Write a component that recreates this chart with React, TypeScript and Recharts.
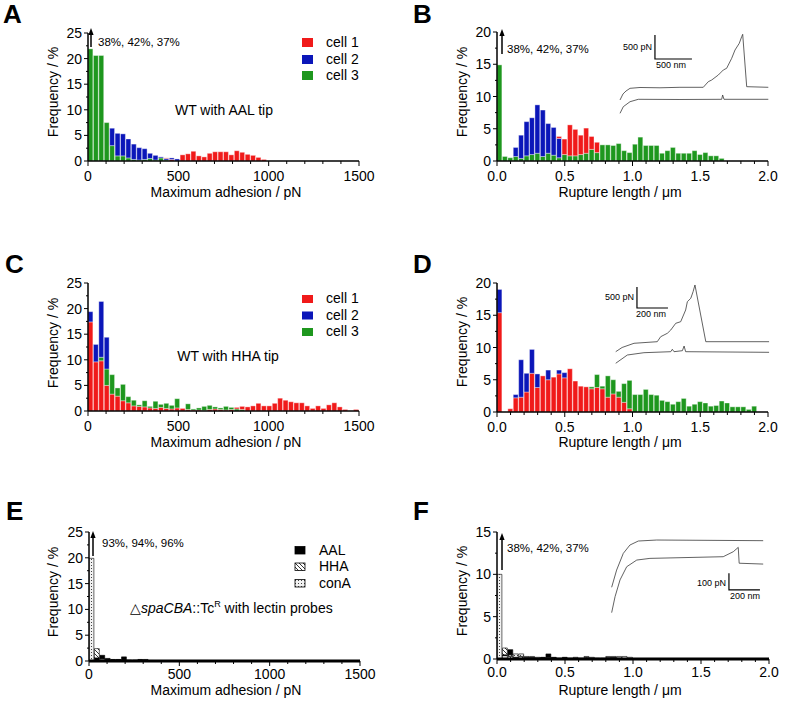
import React from 'react';
import { BarChart, Bar, Cell, XAxis, YAxis, LineChart, Line } from 'recharts';

const FONT = '"Liberation Sans", Arial, Helvetica, sans-serif';
const RED = '#F01A1A';
const BLUE = '#0B16B9';
const GREEN = '#1E971E';
const DOTS = 'url(#pat-dots)';
const HATCH = 'url(#pat-hatch)';
const BLACK = '#000';

// histogram bins (left edge of each bin)
const ADHESION_BINS = [0, 30, 60, 90, 120, 150, 180, 210, 240, 270, 300, 330, 360, 390, 420, 450, 480, 510, 540, 570, 600, 630, 660, 690, 720, 750, 780, 810, 840, 870, 900, 930, 960, 990, 1020, 1050, 1080, 1110, 1140, 1170, 1200, 1230, 1260, 1290, 1320, 1350, 1380, 1410, 1440, 1470];
const RUPTURE_BINS = [0, 0.04, 0.08, 0.12, 0.16, 0.2, 0.24, 0.28, 0.32, 0.36, 0.4, 0.44, 0.48, 0.52, 0.56, 0.6, 0.64, 0.68, 0.72, 0.76, 0.8, 0.84, 0.88, 0.92, 0.96, 1, 1.04, 1.08, 1.12, 1.16, 1.2, 1.24, 1.28, 1.32, 1.36, 1.4, 1.44, 1.48, 1.52, 1.56, 1.6, 1.64, 1.68, 1.72, 1.76, 1.8, 1.84, 1.88, 1.92, 1.96];

// axis ticks
const ADH_TICKS = [0, 100, 200, 300, 400, 500, 600, 700, 800, 900, 1000, 1100, 1200, 1300, 1400, 1500];
const ADH_MAJOR = [0, 500, 1000, 1500];
const RUP_TICKS = [0, 0.1, 0.2, 0.3, 0.4, 0.5, 0.6, 0.7, 0.8, 0.9, 1, 1.1, 1.2, 1.3, 1.4, 1.5, 1.6, 1.7, 1.8, 1.9, 2];
const RUP_MAJOR = [0, 0.5, 1, 1.5, 2];
const FREQ25_TICKS = [0, 2.5, 5, 7.5, 10, 12.5, 15, 17.5, 20, 22.5, 25];
const FREQ20_TICKS = [0, 2.5, 5, 7.5, 10, 12.5, 15, 17.5, 20];
const FREQ15_TICKS = [0, 2.5, 5, 7.5, 10, 12.5, 15];

// A: WT with AAL tip, max adhesion (%)
const A_CELL1 = [0, 0, 0, 0, 0, 0, 0, 0, 0, 0, 0, 0, 0, 0, 0.6, 0.3, 0, 1.2, 1.4, 1.9, 1.0, 0.8, 1.5, 1.8, 1.8, 1.8, 1.2, 2.0, 1.7, 1.3, 1.1, 0.7, 0.3, 0, 0, 0, 0, 0, 0, 0, 0, 0, 0, 0, 0, 0, 0, 0, 0, 0];
const A_CELL2 = [0, 0, 0, 0, 6.4, 5.4, 5.3, 4.3, 3.3, 2.6, 2.4, 1.5, 1.1, 0.8, 0.5, 0.6, 0.4, 0, 0, 0, 0, 0, 0, 0, 0, 0, 0, 0, 0, 0, 0, 0, 0, 0, 0, 0, 0, 0, 0, 0, 0, 0, 0, 0, 0, 0, 0, 0, 0, 0];
const A_CELL3 = [21.9, 20.6, 20.6, 7.5, 3.0, 1.0, 1.0, 0.6, 0.3, 0.2, 0.3, 0.5, 0.2, 0.6, 0.2, 0, 0, 0, 0, 0, 0, 0, 0, 0, 0, 0, 0, 0, 0, 0, 0, 0, 0, 0, 0, 0, 0, 0, 0, 0, 0, 0, 0, 0, 0, 0, 0, 0, 0, 0];

// B: WT with AAL tip, rupture length (%)
const B_CELL1 = [0, 0, 0, 0, 0, 0, 0, 0, 0, 0, 0, 3.8, 3.4, 5.6, 4.9, 4.0, 5.1, 3.8, 2.9, 0, 0, 0, 0, 0, 0, 0, 0, 0, 0, 0, 0, 0, 0, 0, 0, 0, 0, 0, 0, 0, 0, 0, 0, 0, 0, 0, 0, 0, 0, 0];
const B_CELL2 = [0, 0, 0, 2.1, 4.0, 6.1, 6.7, 8.7, 7.9, 5.8, 5.2, 3.5, 0, 0, 0, 0, 0, 0, 0, 0, 0, 0, 0, 0, 0, 0, 0, 0, 0, 0, 0, 0, 0, 0, 0, 0, 0, 0, 0, 0, 0, 0, 0, 0, 0, 0, 0, 0, 0, 0];
const B_CELL3 = [14.9, 0.7, 0.5, 0.7, 0.4, 0.8, 1.0, 1.2, 0.7, 1.2, 0.9, 0.5, 1.0, 0.8, 0.8, 1.0, 1.2, 1.8, 1.3, 2.5, 2.5, 2.4, 2.7, 1.6, 1.3, 2.6, 3.7, 2.4, 2.4, 2.4, 1.2, 1.6, 2.1, 1.2, 1.2, 1.2, 1.6, 1.0, 1.3, 0.8, 0.8, 0.4, 0, 0, 0, 0, 0, 0, 0, 0];

// C: WT with HHA tip, max adhesion (%)
const C_CELL1 = [17.4, 9.6, 9.8, 5.0, 3.3, 2.9, 2.0, 1.6, 1.0, 0.9, 0.8, 0.6, 0.5, 0.7, 0.5, 0.4, 0.6, 0.5, 0.3, 0.2, 0.2, 0.1, 0.3, 0.4, 0.3, 0.2, 0.3, 0.7, 0.9, 0.8, 1.0, 1.5, 1.0, 1.0, 1.5, 2.5, 2.1, 1.8, 1.6, 1.6, 1.0, 0.5, 1.0, 0.5, 1.2, 1.6, 0.8, 0.3, 0, 0.3];
const C_CELL2 = [19.4, 13.0, 21.4, 14.4, 0, 0, 0, 0, 0, 0, 0, 0, 0, 0, 0, 0, 0, 0, 0, 0, 0, 0, 0, 0, 0, 0, 0, 0, 0, 0, 0, 0, 0, 0, 0, 0, 0, 0, 0, 0, 0, 0, 0, 0, 0, 0, 0, 0, 0, 0];
const C_CELL3 = [0, 0, 10.5, 8.2, 7.1, 4.5, 5.2, 2.8, 2.1, 1.2, 2.0, 0.9, 1.9, 1.3, 1.5, 1.1, 2.4, 0.5, 1.4, 0.4, 0.6, 0.9, 1.1, 0.8, 0.6, 0.9, 0.7, 0.4, 0.3, 0, 0, 0, 0, 0, 0, 0, 0, 0, 0, 0, 0, 0, 0, 0, 0, 0, 0, 0, 0, 0];

// D: WT with HHA tip, rupture length (%)
const D_CELL1 = [15.4, 0, 0.5, 2.2, 2.3, 3.1, 6.0, 3.8, 5.6, 5.0, 5.4, 5.9, 5.3, 6.7, 4.8, 4.0, 3.9, 3.6, 3.8, 3.6, 2.3, 2.8, 2.3, 1.5, 0.5, 0, 0, 0, 0, 0, 0, 0, 0, 0, 0, 0, 0, 0, 0, 0, 0, 0, 0, 0, 0, 0, 0, 0, 0, 0];
const D_CELL2 = [19.0, 0, 0, 2.7, 8.1, 6.0, 9.7, 5.9, 0, 6.5, 0, 6.5, 6.1, 0, 0, 0, 0, 0, 0, 0, 0, 0, 0, 0, 0, 0, 0, 0, 0, 0, 0, 0, 0, 0, 0, 0, 0, 0, 0, 0, 0, 0, 0, 0, 0, 0, 0, 0, 0, 0];
const D_CELL3 = [0, 0, 0, 0, 0, 0, 0, 0, 0, 0, 0, 0, 0, 0, 0, 0, 0, 3.9, 5.8, 4.0, 5.6, 5.0, 3.2, 4.4, 4.9, 2.7, 2.7, 3.5, 2.7, 2.6, 1.8, 1.6, 1.2, 1.6, 2.1, 0.9, 1.2, 1.6, 1.4, 0.9, 1.0, 1.7, 1.4, 0.8, 0.8, 0.8, 0.4, 0.9, 0, 0];

// E: spaCBA mutant with lectin probes, max adhesion (%)
const E_AAL = [0, 0.6, 1.1, 0.5, 0.3, 0.3, 0.8, 0.2, 0.2, 0.3, 0.3, 0.1, 0, 0, 0, 0, 0, 0, 0, 0, 0, 0, 0, 0, 0, 0, 0, 0, 0, 0, 0, 0, 0, 0, 0, 0, 0, 0, 0, 0, 0, 0, 0, 0, 0, 0, 0, 0, 0, 0];
const E_HHA = [0, 2.4, 0.5, 0.3, 0.2, 0.2, 0.2, 0.1, 0.1, 0.2, 0.1, 0, 0, 0, 0, 0, 0, 0, 0, 0, 0, 0, 0, 0, 0, 0, 0, 0, 0, 0, 0, 0, 0, 0, 0, 0, 0, 0, 0, 0, 0, 0, 0, 0, 0, 0, 0, 0, 0, 0];
const E_CONA = [19.9, 0.6, 0.4, 0.2, 0.1, 0.1, 0, 0.1, 0.1, 0, 0, 0, 0, 0, 0, 0, 0, 0, 0, 0, 0, 0, 0, 0, 0, 0, 0, 0, 0, 0, 0, 0, 0, 0, 0, 0, 0, 0, 0, 0, 0, 0, 0, 0, 0, 0, 0, 0, 0, 0];

// F: spaCBA mutant with lectin probes, rupture length (%)
const F_AAL = [0, 0.5, 1.1, 0.2, 0.1, 0.2, 0.2, 0.1, 0.2, 0.6, 0.2, 0.1, 0.2, 0.1, 0.1, 0, 0.1, 0, 0, 0, 0.1, 0.2, 0, 0, 0, 0, 0, 0, 0, 0, 0, 0, 0, 0, 0, 0, 0, 0, 0, 0, 0, 0, 0, 0, 0, 0, 0, 0, 0, 0];
const F_HHA = [0, 1.3, 0.3, 0.2, 0.3, 0.2, 0.1, 0.1, 0.2, 0.1, 0.1, 0, 0.1, 0.1, 0, 0.1, 0.2, 0.1, 0, 0.1, 0.2, 0.1, 0.1, 0, 0, 0, 0, 0, 0, 0, 0, 0, 0, 0, 0, 0, 0, 0, 0, 0, 0, 0, 0, 0, 0, 0, 0, 0, 0, 0];
const F_CONA = [10.0, 0.4, 0.5, 0.6, 0.6, 0.3, 0.3, 0.2, 0.1, 0.2, 0.1, 0.1, 0.1, 0.1, 0.2, 0.1, 0.3, 0.2, 0.1, 0.1, 0.3, 0.3, 0.3, 0.3, 0.2, 0, 0, 0, 0, 0, 0, 0, 0, 0, 0, 0, 0, 0, 0, 0, 0, 0, 0, 0, 0, 0, 0, 0, 0, 0];

// force-curve insets, x in nm, y in pN
const B_TRACE_UPPER = [
  { x: 68, y: 313 }, { x: 108, y: 438 }, { x: 149, y: 500 }, { x: 203, y: 556 }, { x: 338, y: 573 },
  { x: 608, y: 567 }, { x: 878, y: 577 }, { x: 1193, y: 577 }, { x: 1261, y: 694 }, { x: 1307, y: 729 },
  { x: 1396, y: 833 }, { x: 1464, y: 938 }, { x: 1509, y: 973 }, { x: 1577, y: 1181 }, { x: 1622, y: 1354 },
  { x: 1680, y: 1494 }, { x: 1712, y: 1631 }, { x: 1726, y: 1681 }, { x: 1780, y: 590 }, { x: 2072, y: 577 },
];
const B_TRACE_LOWER = [
  { x: 68, y: 35 }, { x: 112, y: 173 }, { x: 203, y: 277 }, { x: 315, y: 327 }, { x: 878, y: 323 },
  { x: 1442, y: 327 }, { x: 1455, y: 417 }, { x: 1473, y: 327 }, { x: 2072, y: 327 },
];
const B_SCALE = [{ x: 540, y: 1667 }, { x: 540, y: 1167 }, { x: 1040, y: 1167 }];

const D_TRACE_UPPER = [
  { x: 24, y: 436 }, { x: 65, y: 536 }, { x: 142, y: 636 }, { x: 292, y: 674 }, { x: 314, y: 793 },
  { x: 357, y: 874 }, { x: 379, y: 952 }, { x: 411, y: 1112 }, { x: 443, y: 1150 }, { x: 475, y: 1429 },
  { x: 486, y: 1626 }, { x: 508, y: 1707 }, { x: 523, y: 1864 }, { x: 535, y: 2024 }, { x: 605, y: 674 },
  { x: 1013, y: 674 },
];
const D_TRACE_LOWER = [
  { x: 24, y: 160 }, { x: 99, y: 357 }, { x: 206, y: 412 }, { x: 379, y: 436 }, { x: 389, y: 493 },
  { x: 400, y: 436 }, { x: 454, y: 460 }, { x: 465, y: 571 }, { x: 475, y: 436 }, { x: 1013, y: 421 },
];
const D_SCALE = [{ x: 161, y: 1976 }, { x: 161, y: 1476 }, { x: 361, y: 1476 }];

const F_TRACE_UPPER = [
  { x: 43, y: 196 }, { x: 75, y: 299 }, { x: 118, y: 399 }, { x: 161, y: 449 }, { x: 215, y: 473 },
  { x: 334, y: 479 }, { x: 1021, y: 475 },
];
const F_TRACE_LOWER = [
  { x: 43, y: 44 }, { x: 65, y: 140 }, { x: 97, y: 240 }, { x: 140, y: 319 }, { x: 205, y: 359 },
  { x: 290, y: 369 }, { x: 763, y: 379 }, { x: 828, y: 409 }, { x: 860, y: 435 }, { x: 866, y: 340 },
  { x: 1021, y: 335 },
];
const F_SCALE = [{ x: 800, y: 280 }, { x: 800, y: 180 }, { x: 1000, y: 180 }];

type Series = { values: number[]; fill: string };
type Rect = { x: number; y: number; w: number; h: number };

// overlaid histograms: the tallest bar sits behind, so each bin is drawn as sorted stacked pieces
function buildRows(bins: number[], binWidth: number, series: Series[]) {
  return bins.map((bin, i) => {
    const items = series.map((s) => ({ v: s.values[i], fill: s.fill })).sort((a, b) => a.v - b.v);
    const row: any = { mid: bin + binWidth / 2 };
    let prev = 0;
    items.forEach((it, k) => {
      row['s' + k] = it.v - prev;
      row['f' + k] = it.fill;
      prev = it.v;
    });
    return row;
  });
}

const fmtAdh = (v: number) => String(v);
const fmtRup = (v: number) => v.toFixed(1);

function Histogram(props: {
  plot: Rect;
  bins: number[];
  binWidth: number;
  series: Series[];
  xDomain: [number, number];
  xTicks: number[];
  xMajors: number[];
  xFmt: (v: number) => string;
  yMax: number;
  yTicks: number[];
  xAxisWidth: number;
  labelDy: number;
  barStroke: string;
}) {
  const { plot, bins, binWidth, series, xDomain, xTicks, xMajors, xFmt, yMax, yTicks, xAxisWidth, labelDy, barStroke } = props;
  const rows = buildRows(bins, binWidth, series);
  const barPx = (plot.w * binWidth) / (xDomain[1] - xDomain[0]);
  return (
    <div style={{ position: 'absolute', left: plot.x - 50, top: plot.y - 10 }}>
      <BarChart
        width={plot.w + 70}
        height={plot.h + 50}
        data={rows}
        margin={{ top: 10, right: 20, bottom: 10, left: 10 }}
        barCategoryGap={0}
        barGap={0}
      >
        <XAxis
          dataKey="mid"
          type="number"
          domain={xDomain}
          ticks={xTicks}
          interval={0}
          allowDataOverflow
          height={30}
          tickSize={0}
          tickMargin={0}
          tickLine={false}
          axisLine={{ stroke: '#000', strokeWidth: xAxisWidth }}
          tick={(p: any) => {
            const v = p.payload.value;
            const major = xMajors.includes(v);
            return (
              <g key={'xt' + v}>
                <line x1={p.x} x2={p.x} y1={p.y} y2={p.y + (major ? 5 : 3)} stroke="#000" strokeWidth={1} />
                {major && (
                  <text x={p.x} y={p.y + labelDy} textAnchor="middle" fontSize={14} fontFamily={FONT} fill="#000">
                    {xFmt(v)}
                  </text>
                )}
              </g>
            );
          }}
        />
        <YAxis
          type="number"
          domain={[0, yMax]}
          ticks={yTicks}
          interval={0}
          allowDataOverflow
          width={40}
          tickSize={0}
          tickMargin={0}
          tickLine={false}
          axisLine={{ stroke: '#000', strokeWidth: 1.5 }}
          tick={(p: any) => {
            const v = p.payload.value;
            const major = v % 5 === 0;
            return (
              <g key={'yt' + v}>
                <line x1={p.x} x2={p.x - (major ? 4 : 2)} y1={p.y} y2={p.y} stroke="#000" strokeWidth={1} />
                {major && (
                  <text x={p.x - 6} y={p.y + 5} textAnchor="end" fontSize={14} fontFamily={FONT} fill="#000">
                    {v}
                  </text>
                )}
              </g>
            );
          }}
        />
        {[0, 1, 2].map((k) => (
          <Bar
            key={k}
            dataKey={'s' + k}
            stackId="h"
            barSize={barPx}
            stroke={barStroke}
            strokeWidth={0.6}
            isAnimationActive={false}
          >
            {rows.map((r, i) => (
              <Cell key={i} fill={r['f' + k]} />
            ))}
          </Bar>
        ))}
      </BarChart>
    </div>
  );
}

function Inset(props: {
  box: Rect;
  xMax: number;
  yMax: number;
  upper: { x: number; y: number }[];
  lower: { x: number; y: number }[];
  scale: { x: number; y: number }[];
}) {
  const { box, xMax, yMax, upper, lower, scale } = props;
  return (
    <div style={{ position: 'absolute', left: box.x, top: box.y }}>
      <LineChart width={box.w} height={box.h} margin={{ top: 0, right: 0, bottom: 0, left: 0 }}>
        <XAxis type="number" dataKey="x" domain={[0, xMax]} allowDataOverflow hide />
        <YAxis type="number" domain={[0, yMax]} allowDataOverflow hide />
        <Line data={upper} dataKey="y" stroke="#3a3a3a" strokeWidth={0.8} dot={false} isAnimationActive={false} />
        <Line data={lower} dataKey="y" stroke="#3a3a3a" strokeWidth={0.8} dot={false} isAnimationActive={false} />
        <Line data={scale} dataKey="y" stroke="#000" strokeWidth={1.2} dot={false} isAnimationActive={false} />
      </LineChart>
    </div>
  );
}

function UpArrow({ x, y1, y2 }: { x: number; y1: number; y2: number }) {
  return (
    <g>
      <line x1={x} x2={x} y1={y1} y2={y2 + 5} stroke="#000" strokeWidth={1.5} />
      <path d={`M${x - 2.6},${y2 + 7} L${x},${y2} L${x + 2.6},${y2 + 7} Z`} fill="#000" />
    </g>
  );
}

const PLOT_A = { x: 88, y: 33, w: 271, h: 128 };
const PLOT_B = { x: 497, y: 32, w: 271, h: 129 };
const PLOT_C = { x: 88, y: 283, w: 271, h: 128 };
const PLOT_D = { x: 497, y: 283, w: 271, h: 129 };
const PLOT_E = { x: 89, y: 532, w: 271, h: 129 };
const PLOT_F = { x: 497, y: 532, w: 272, h: 127 };

export default function App() {
  const t = { fontFamily: FONT, fill: '#000' } as const;
  const letter = { ...t, fontSize: 26, fontWeight: 700 } as const;
  const ytitle = (x: number, y: number) => ({ x, y, transform: `rotate(-90 ${x} ${y})`, textAnchor: 'middle' as const });

  const colorSeries = (c1: number[], c2: number[], c3: number[]) => [
    { values: c1, fill: RED },
    { values: c2, fill: BLUE },
    { values: c3, fill: GREEN },
  ];
  const lectinSeries = (aal: number[], hha: number[], cona: number[]) => [
    { values: aal, fill: BLACK },
    { values: hha, fill: HATCH },
    { values: cona, fill: DOTS },
  ];
  const adh = { bins: ADHESION_BINS, binWidth: 30, xDomain: [0, 1500] as [number, number], xTicks: ADH_TICKS, xMajors: ADH_MAJOR, xFmt: fmtAdh };
  const rup = { bins: RUPTURE_BINS, binWidth: 0.04, xDomain: [0, 2] as [number, number], xTicks: RUP_TICKS, xMajors: RUP_MAJOR, xFmt: fmtRup };
  const colored = { xAxisWidth: 1.5, labelDy: 20, barStroke: 'rgba(255,255,255,0.6)' };
  const lectin = { xAxisWidth: 3, labelDy: 18, barStroke: '#000' };

  return (
    <div style={{ position: 'relative', width: 786, height: 702, background: '#fff', overflow: 'hidden' }}>
      <style>{'body{margin:0}'}</style>
      <svg width={0} height={0} style={{ position: 'absolute' }}>
        <defs>
          <pattern id="pat-dots" width={3} height={3} patternUnits="userSpaceOnUse">
            <rect width={3} height={3} fill="#f2f2f2" />
            <circle cx={1.5} cy={1.5} r={0.55} fill="#222" />
          </pattern>
          <pattern id="pat-hatch" width={4} height={4} patternUnits="userSpaceOnUse">
            <rect width={4} height={4} fill="#fff" />
            <path d="M-1,-1 L5,5 M-1,3 L1,5 M3,-1 L5,1" stroke="#000" strokeWidth={0.8} />
          </pattern>
        </defs>
      </svg>

      <Histogram plot={PLOT_A} {...adh} {...colored} series={colorSeries(A_CELL1, A_CELL2, A_CELL3)} yMax={25} yTicks={FREQ25_TICKS} />
      <Histogram plot={PLOT_B} {...rup} {...colored} series={colorSeries(B_CELL1, B_CELL2, B_CELL3)} yMax={20} yTicks={FREQ20_TICKS} />
      <Histogram plot={PLOT_C} {...adh} {...colored} series={colorSeries(C_CELL1, C_CELL2, C_CELL3)} yMax={25} yTicks={FREQ25_TICKS} />
      <Histogram plot={PLOT_D} {...rup} {...colored} series={colorSeries(D_CELL1, D_CELL2, D_CELL3)} yMax={20} yTicks={FREQ20_TICKS} />
      <Histogram plot={PLOT_E} {...adh} {...lectin} series={lectinSeries(E_AAL, E_HHA, E_CONA)} yMax={25} yTicks={FREQ25_TICKS} />
      <Histogram plot={PLOT_F} {...rup} {...lectin} series={lectinSeries(F_AAL, F_HHA, F_CONA)} yMax={15} yTicks={FREQ15_TICKS} />

      <Inset box={{ x: 615, y: 30, w: 155, h: 85 }} xMax={2095} yMax={1771} upper={B_TRACE_UPPER} lower={B_TRACE_LOWER} scale={B_SCALE} />
      <Inset box={{ x: 612, y: 280, w: 158, h: 90 }} xMax={1019} yMax={2143} upper={D_TRACE_UPPER} lower={D_TRACE_LOWER} scale={D_SCALE} />
      <Inset box={{ x: 605, y: 530, w: 165, h: 90 }} xMax={1065} yMax={539} upper={F_TRACE_UPPER} lower={F_TRACE_LOWER} scale={F_SCALE} />

      <svg width={786} height={702} style={{ position: 'absolute', left: 0, top: 0, pointerEvents: 'none' }}>
        {/* panel letters */}
        <text {...letter} x={3} y={22.5}>A</text>
        <text {...letter} x={413} y={22.5}>B</text>
        <text {...letter} x={5} y={273}>C</text>
        <text {...letter} x={413} y={273}>D</text>
        <text {...letter} x={6} y={520}>E</text>
        <text {...letter} x={413} y={520}>F</text>

        {/* axis titles */}
        <g {...t} fontSize={14}>
          <text {...ytitle(58, 92)}>Frequency / %</text>
          <text {...ytitle(467, 92)}>Frequency / %</text>
          <text {...ytitle(58, 343)}>Frequency / %</text>
          <text {...ytitle(467, 342)}>Frequency / %</text>
          <text {...ytitle(58, 592)}>Frequency / %</text>
          <text {...ytitle(467, 591)}>Frequency / %</text>
          <text x={226} y={197} textAnchor="middle">Maximum adhesion / pN</text>
          <text x={620} y={197} textAnchor="middle">Rupture length / μm</text>
          <text x={226} y={447} textAnchor="middle">Maximum adhesion / pN</text>
          <text x={620} y={447} textAnchor="middle">Rupture length / μm</text>
          <text x={226} y={695} textAnchor="middle">Maximum adhesion / pN</text>
          <text x={620} y={695} textAnchor="middle">Rupture length / μm</text>
        </g>

        {/* legends */}
        <g {...t} fontSize={14}>
          <rect x={302} y={38} width={11} height={9} fill={RED} />
          <rect x={302} y={55} width={11} height={9} fill={BLUE} />
          <rect x={302} y={71} width={11} height={9} fill={GREEN} />
          <text x={326} y={47}>cell 1</text>
          <text x={326} y={63.5}>cell 2</text>
          <text x={326} y={80}>cell 3</text>

          <rect x={302} y={295} width={11} height={8} fill={RED} />
          <rect x={302} y={311.5} width={11} height={8} fill={BLUE} />
          <rect x={302} y={328} width={11} height={8} fill={GREEN} />
          <text x={326} y={303}>cell 1</text>
          <text x={326} y={319.5}>cell 2</text>
          <text x={326} y={336}>cell 3</text>

          <rect x={295} y={546.5} width={10} height={7.5} fill={BLACK} stroke="#000" strokeWidth={0.8} />
          <rect x={295} y={563} width={10} height={7.5} fill={HATCH} stroke="#000" strokeWidth={0.8} />
          <rect x={295} y={579.5} width={10} height={7.5} fill={DOTS} stroke="#000" strokeWidth={0.8} />
          <text x={319} y={554.5}>AAL</text>
          <text x={319} y={571}>HHA</text>
          <text x={319} y={587.5}>conA</text>
        </g>

        {/* annotations */}
        <g {...t} fontSize={14}>
          <text x={224} y={115} textAnchor="middle">WT with AAL tip</text>
          <text x={228} y={361} textAnchor="middle">WT with HHA tip</text>
          <text x={130} y={612.5}>
            △<tspan fontStyle="italic">spaCBA</tspan>::Tc<tspan fontSize={9} dy={-6}>R</tspan>
            <tspan dy={6}> with lectin probes</tspan>
          </text>
        </g>
        <g {...t} fontSize={11.5}>
          <UpArrow x={91} y1={47} y2={28} />
          <text x={98} y={46}>38%, 42%, 37%</text>
          <UpArrow x={502} y1={54} y2={29} />
          <text x={507} y={52.5}>38%, 42%, 37%</text>
          <UpArrow x={93} y1={556} y2={531} />
          <text x={102} y={547}>93%, 94%, 96%</text>
          <UpArrow x={502} y1={570} y2={533} />
          <text x={507} y={552}>38%, 42%, 37%</text>
        </g>

        {/* inset scale-bar labels */}
        <g {...t} fontSize={9}>
          <text x={652} y={49.5} textAnchor="end">500 pN</text>
          <text x={671} y={67.5} textAnchor="middle">500 nm</text>
          <text x={634} y={300} textAnchor="end">500 pN</text>
          <text x={651} y={317} textAnchor="middle">200 nm</text>
          <text x={726} y={585.5} textAnchor="end">100 pN</text>
          <text x={745} y={599} textAnchor="middle">200 nm</text>
        </g>
      </svg>
    </div>
  );
}
